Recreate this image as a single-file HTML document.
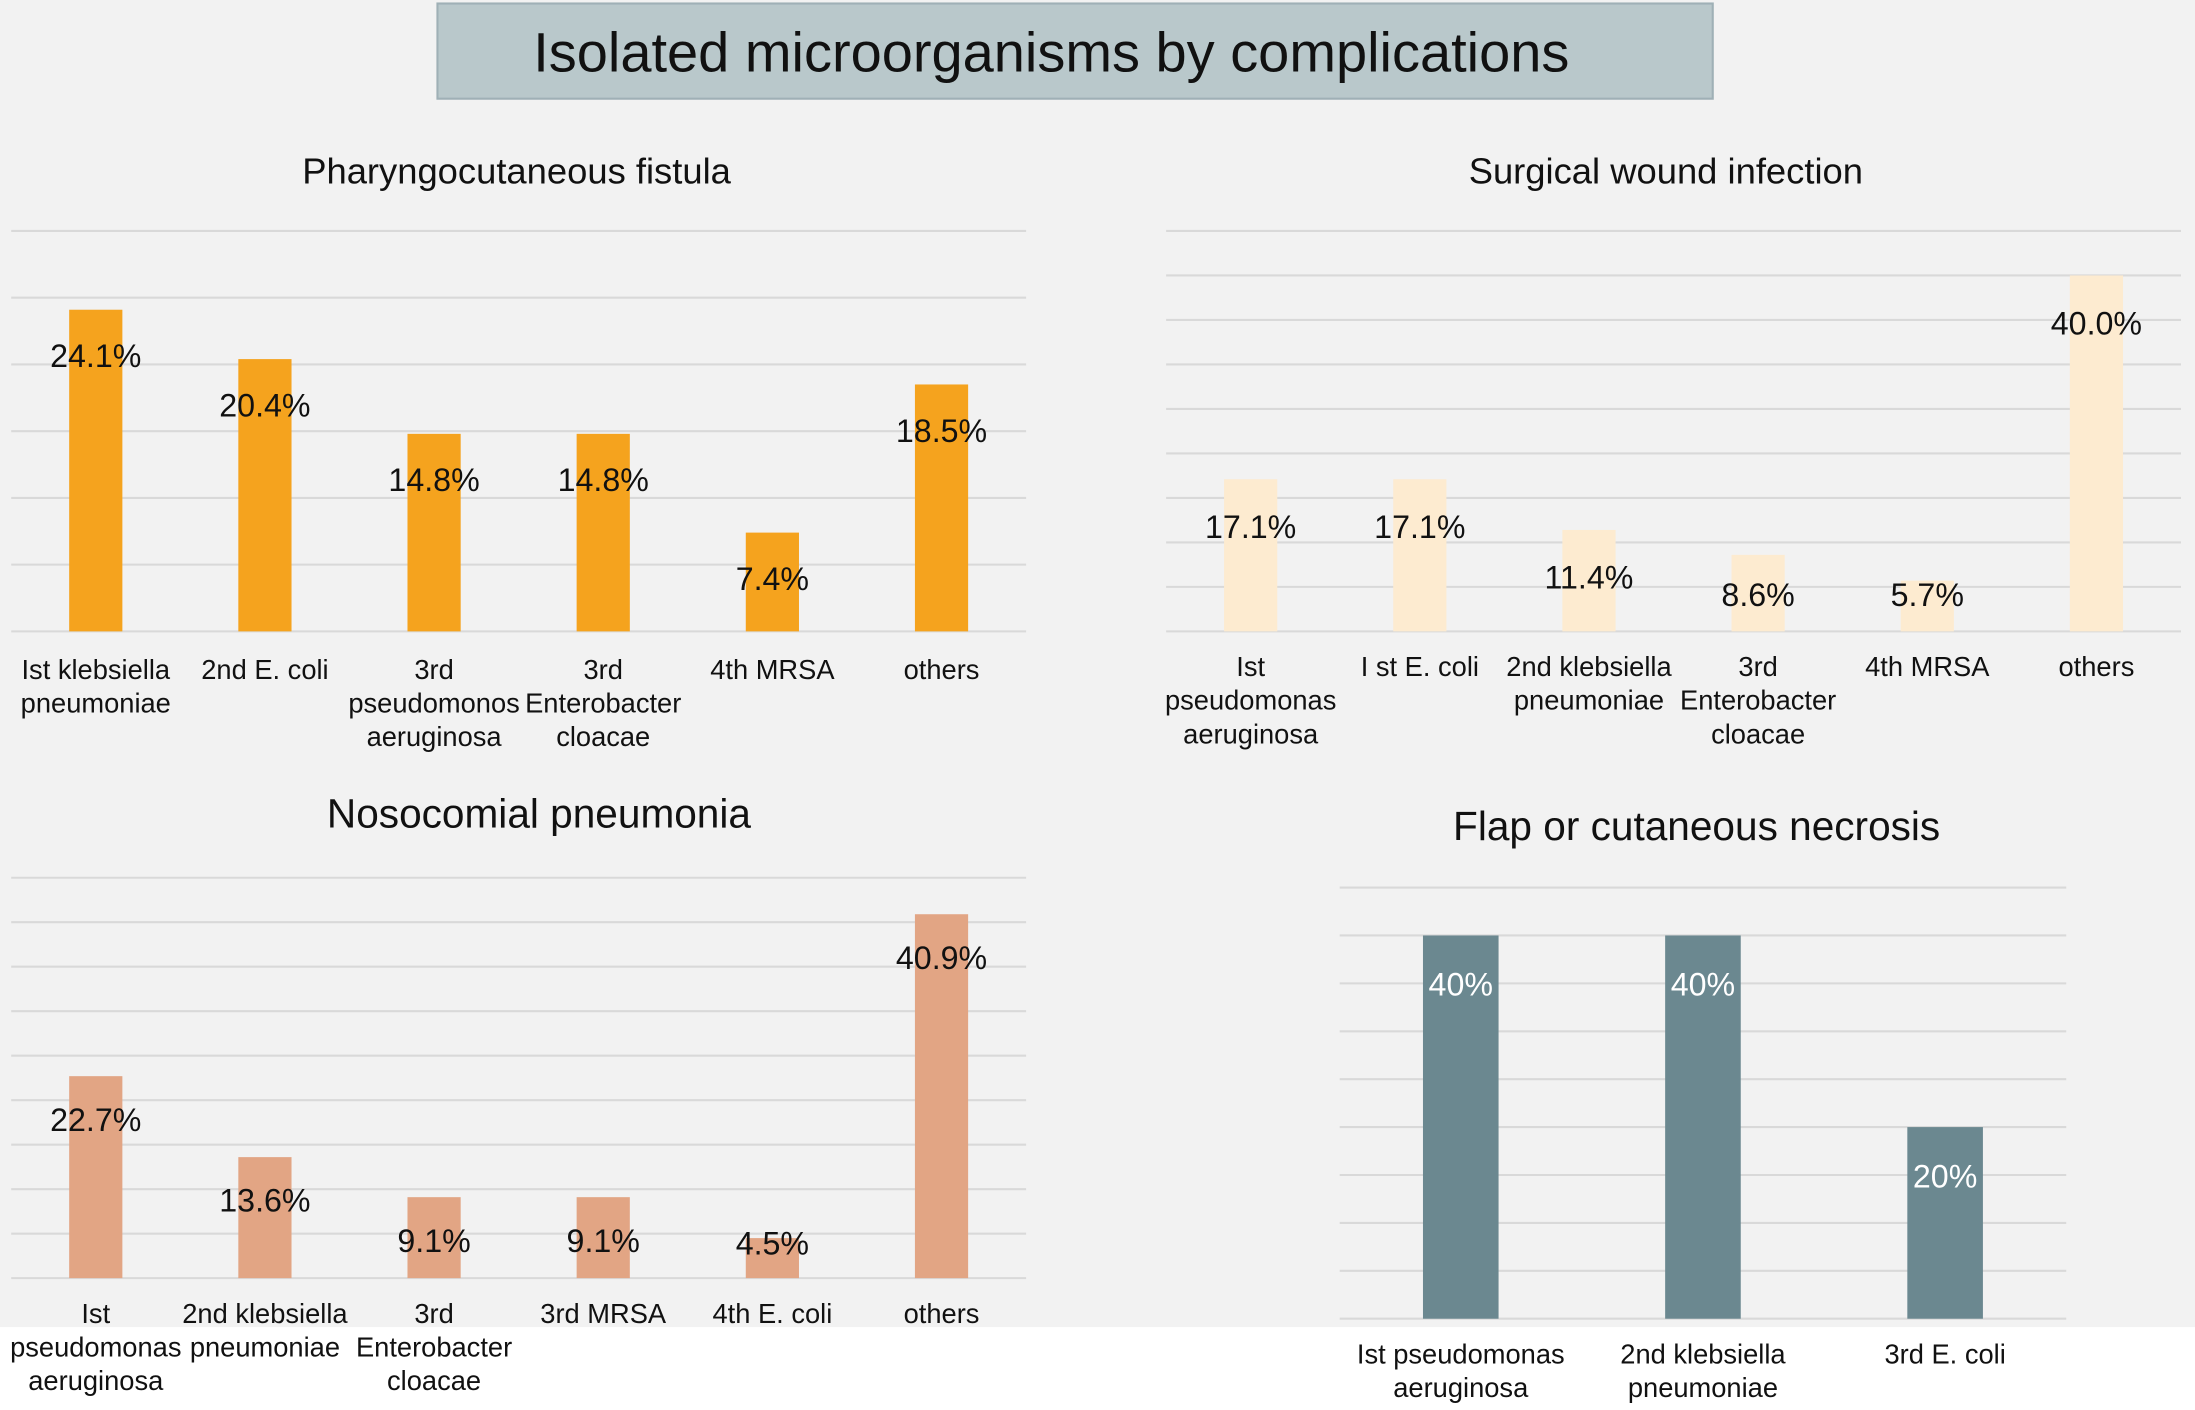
<!DOCTYPE html>
<html><head><meta charset="utf-8"><style>
html,body{margin:0;padding:0;background:#f2f2f2}
svg{display:block}
text{font-family:"Liberation Sans",Arial,sans-serif}
</style></head><body>
<svg id="root" width="2195" height="1410" viewBox="0 0 1568 1007.2" preserveAspectRatio="none" xmlns="http://www.w3.org/2000/svg">
<rect x="0" y="0" width="1568" height="1008" fill="#f2f2f2"/>
<rect x="0" y="948" width="1568" height="60" fill="#ffffff"/>
<rect x="312.5" y="2.5" width="911" height="68" fill="#b9c8cb" stroke="#9fb0b6" stroke-width="1.5"/>
<text x="751" y="51" font-size="40" text-anchor="middle" fill="#111">Isolated microorganisms by complications</text>
<g id="charts"></g>
</svg>
<script>
// Chart 1: Pharyngocutaneous fistula
const c1Categories = [["Ist klebsiella","pneumoniae"],["2nd E. coli"],["3rd","pseudomonos","aeruginosa"],["3rd","Enterobacter","cloacae"],["4th MRSA"],["others"]];
const c1Values = [24.1, 20.4, 14.8, 14.8, 7.4, 18.5];
const c1Labels = ["24.1%","20.4%","14.8%","14.8%","7.4%","18.5%"];
// Chart 2: Surgical wound infection
const c2Categories = [["Ist","pseudomonas","aeruginosa"],["I st E. coli"],["2nd klebsiella","pneumoniae"],["3rd","Enterobacter","cloacae"],["4th MRSA"],["others"]];
const c2Values = [17.1, 17.1, 11.4, 8.6, 5.7, 40.0];
const c2Labels = ["17.1%","17.1%","11.4%","8.6%","5.7%","40.0%"];
// Chart 3: Nosocomial pneumonia
const c3Categories = [["Ist","pseudomonas","aeruginosa"],["2nd klebsiella","pneumoniae"],["3rd","Enterobacter","cloacae"],["3rd MRSA"],["4th E. coli"],["others"]];
const c3Values = [22.7, 13.6, 9.1, 9.1, 4.5, 40.9];
const c3Labels = ["22.7%","13.6%","9.1%","9.1%","4.5%","40.9%"];
// Chart 4: Flap or cutaneous necrosis
const c4Categories = [["Ist pseudomonas","aeruginosa"],["2nd klebsiella","pneumoniae"],["3rd E. coli"]];
const c4Values = [40, 40, 20];
const c4Labels = ["40%","40%","20%"];

const NS = "http://www.w3.org/2000/svg";
const root = document.getElementById('charts');
function mk(tag, attrs, parent){const e=document.createElementNS(NS,tag);for(const k in attrs)e.setAttribute(k,attrs[k]);(parent||root).appendChild(e);return e;}

function chart(o){
  const g = mk('g',{});
  
  
  const t = mk('text',{x:o.titleX,y:o.titleY,'font-size':o.titleSize,'text-anchor':'middle',fill:'#111'},g);
  t.textContent = o.title;
  
  
  const y = v => o.base - (v/o.max)*(o.base-o.top);
  for(let v=0; v<=o.max+0.001; v+=o.step){
    const l = mk('line',{x1:o.x0,x2:o.x1,y1:y(v),y2:y(v),stroke:'#d9d9d9','stroke-width':1.5},g);
    
    
  }
  const n = o.values.length;
  const band = (o.x1-o.x0)/n;
  const xc = i => o.x0 + band*(i+0.5);
  o.values.forEach((v,i)=>{
    const r = mk('rect',{x:xc(i)-o.bw/2,y:y(v),width:o.bw,height:o.base-y(v),fill:o.color},g);
    
    
    const ly = Math.min(y(v)+o.lblOff, o.lblMax);
    const lt = mk('text',{x:xc(i),y:ly+8,'font-size':23,'text-anchor':'middle',fill:o.lblColor},g);
    lt.textContent = o.labels[i];
    
    
    o.cats[i].forEach((s,j)=>{
      const ct = mk('text',{x:xc(i),y:o.catY+j*24,'font-size':19.5,'text-anchor':'middle',fill:'#111'},g);
      ct.textContent = s;
      
      
    });
  });
}
chart({name:'chart-pharyngocutaneous-fistula',title:'Pharyngocutaneous fistula',titleX:369,titleY:131,titleSize:26,
  x0:8,x1:733,top:165,base:451,max:30,step:5,bw:38,color:'#f5a31e',values:c1Values,labels:c1Labels,cats:c1Categories,
  lblOff:33,lblMax:440,lblColor:'#111',catY:485});
chart({name:'chart-surgical-wound-infection',title:'Surgical wound infection',titleX:1190,titleY:131,titleSize:26,
  x0:833,x1:1558,top:165,base:451,max:45,step:5,bw:38,color:'#fdebd0',values:c2Values,labels:c2Labels,cats:c2Categories,
  lblOff:34,lblMax:425,lblColor:'#111',catY:483});
chart({name:'chart-nosocomial-pneumonia',title:'Nosocomial pneumonia',titleX:385,titleY:591,titleSize:29,
  x0:8,x1:733,top:627,base:913,max:45,step:5,bw:38,color:'#e2a584',values:c3Values,labels:c3Labels,cats:c3Categories,
  lblOff:31,lblMax:888,lblColor:'#111',catY:945});
chart({name:'chart-flap-necrosis',title:'Flap or cutaneous necrosis',titleX:1212,titleY:600,titleSize:29,
  x0:957,x1:1476,top:634,base:942,max:45,step:5,bw:54,color:'#6b8890',values:c4Values,labels:c4Labels,cats:c4Categories,
  lblOff:35,lblMax:930,lblColor:'#ffffff',catY:974});
</script>
</body></html>
